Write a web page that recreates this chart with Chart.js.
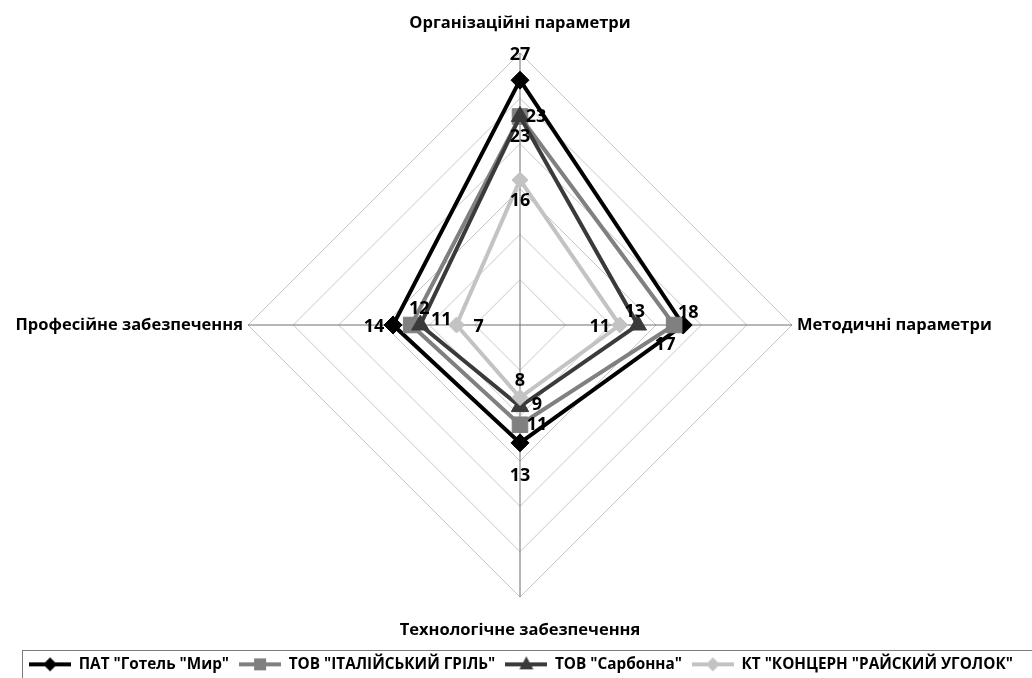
<!DOCTYPE html>
<html><head><meta charset="utf-8">
<script src="https://cdn.jsdelivr.net/npm/chart.js@4/dist/chart.umd.min.js"></script>
<style>html,body{margin:0;padding:0;background:#fff}canvas{display:block}</style>
</head><body><canvas id="c" width="1032" height="678"></canvas>
<script>
// ---- data ----
const categories = ['Організаційні параметри', 'Методичні параметри', 'Технологічне забезпечення', 'Професійне забезпечення'];
const seriesNames = ['ПАТ "Готель "Мир"', 'ТОВ "ІТАЛІЙСЬКИЙ ГРІЛЬ"', 'ТОВ "Сарбонна"', 'КТ "КОНЦЕРН "РАЙСКИЙ УГОЛОК"'];
const valuesMyr = [27, 18, 13, 14];
const valuesGril = [23, 17, 11, 12];
const valuesSarbonna = [23, 13, 9, 11];
const valuesKoncern = [16, 11, 8, 7];
const scaleMin = 0, scaleMax = 30, scaleStep = 5;

// ---- styles ----
const FONT = '"Open Sans", "DejaVu Sans", sans-serif';
const colors = ['#000000', '#808080', '#3a3a3a', '#c3c3c3'];
const pStyles = ['rectRot', 'rect', 'triangle', 'rectRot'];
const pRadius = [9, 11, 10, 8];
// label offsets (dx, dy) relative to each point, per series, per category
const labelOffsets = [
  [[0, -25], [5, -12], [0, 33], [-19, 2]],
  [[16, 0], [-9, 20], [17, 0], [8, -16]],
  [[0, 20], [-3, -13], [17, -2], [21, -5]],
  [[0, 21], [-20, 2], [0, -17], [22, 2]]
];
const allValues = [valuesMyr, valuesGril, valuesSarbonna, valuesKoncern];

function legendImage(i) {
  const c = document.createElement('canvas');
  c.width = 42; c.height = 18;
  const x = c.getContext('2d');
  x.strokeStyle = colors[i]; x.fillStyle = colors[i]; x.lineWidth = 4;
  x.beginPath(); x.moveTo(0, 9); x.lineTo(42, 9); x.stroke();
  x.beginPath();
  const cx = 21, cy = 9;
  if (pStyles[i] === 'rectRot') { x.moveTo(cx - 7, cy); x.lineTo(cx, cy - 7); x.lineTo(cx + 7, cy); x.lineTo(cx, cy + 7); }
  else if (pStyles[i] === 'rect') { x.rect(cx - 6, cy - 6, 12, 12); }
  else { x.moveTo(cx, cy - 8); x.lineTo(cx + 7, cy + 5); x.lineTo(cx - 7, cy + 5); }
  x.closePath(); x.fill();
  return c;
}

const datasets = allValues.map((vals, i) => ({
  label: seriesNames[i],
  data: vals,
  borderColor: colors[i],
  backgroundColor: colors[i],
  borderWidth: 4,
  fill: false,
  pointStyle: pStyles[i],
  pointRadius: pRadius[i],
  pointHoverRadius: pRadius[i],
  pointBackgroundColor: colors[i],
  pointBorderColor: colors[i],
  pointBorderWidth: 1,
  order: allValues.length - i
}));

const geometry = { xCenter: 520, yCenter: 325, radius: 272 };

const extrasPlugin = {
  id: 'extras',
  afterDatasetsDraw(chart) {
    const ctx = chart.ctx;
    const scale = chart.scales.r;
    ctx.save();
    // axis titles
    ctx.fillStyle = '#000';
    ctx.font = 'bold 16.5px ' + FONT;
    const R = scale.drawingArea;
    let p;
    p = scale.getPointPosition(0, R);
    ctx.textAlign = 'center'; ctx.textBaseline = 'middle';
    ctx.fillText(categories[0], p.x, p.y - 30);
    p = scale.getPointPosition(1, R);
    ctx.textAlign = 'left'; ctx.fillText(categories[1], p.x + 5, p.y);
    p = scale.getPointPosition(2, R);
    ctx.textAlign = 'center'; ctx.fillText(categories[2], p.x, p.y + 33);
    p = scale.getPointPosition(3, R);
    ctx.textAlign = 'right'; ctx.fillText(categories[3], p.x - 5, p.y);
    // value labels
    ctx.font = 'bold 18px ' + FONT;
    ctx.textAlign = 'center'; ctx.textBaseline = 'middle';
    chart.data.datasets.forEach((ds, di) => {
      const meta = chart.getDatasetMeta(di);
      meta.data.forEach((pt, j) => {
        const o = labelOffsets[di][j];
        ctx.fillText(String(ds.data[j]), pt.x + o[0], pt.y + o[1]);
      });
    });
    ctx.restore();
  },
  afterDraw(chart) {
    const ctx = chart.ctx;
    ctx.save();
    ctx.strokeStyle = '#7a7a7a'; ctx.lineWidth = 1;
    ctx.strokeRect(22.5, 650.5, 1030, 40);
    ctx.restore();
  }
};

new Chart(document.getElementById('c'), {
  type: 'radar',
  data: { labels: categories, datasets },
  plugins: [extrasPlugin],
  options: {
    responsive: false,
    animation: false,
    devicePixelRatio: 1,
    layout: { padding: { left: 10, right: 0, top: 0, bottom: -4 } },
    elements: { line: { tension: 0 } },
    plugins: {
      tooltip: { enabled: false },
      legend: {
        position: 'bottom',
        labels: {
          usePointStyle: true,
          pointStyleWidth: 42,
          boxHeight: 15,
          padding: 10,
          color: '#000',
          font: { family: FONT, size: 15.3, weight: 'bold' },
          generateLabels(chart) {
            return chart.data.datasets.map((ds, i) => ({
              text: ds.label,
              datasetIndex: i,
              pointStyle: legendImage(i),
              fillStyle: 'transparent',
              strokeStyle: 'transparent',
              lineWidth: 0,
              fontColor: '#000',
              hidden: false
            }));
          }
        }
      }
    },
    scales: {
      r: {
        min: scaleMin,
        max: scaleMax,
        ticks: { stepSize: scaleStep, display: false },
        grid: { circular: false, color: '#c8c8c8', lineWidth: 1 },
        angleLines: { color: '#6e6e6e', lineWidth: 1 },
        pointLabels: { display: false },
        afterFit(scale) {
          scale.xCenter = geometry.xCenter;
          scale.yCenter = geometry.yCenter;
          scale.drawingArea = geometry.radius;
        }
      }
    }
  }
});
</script>
</body></html>
